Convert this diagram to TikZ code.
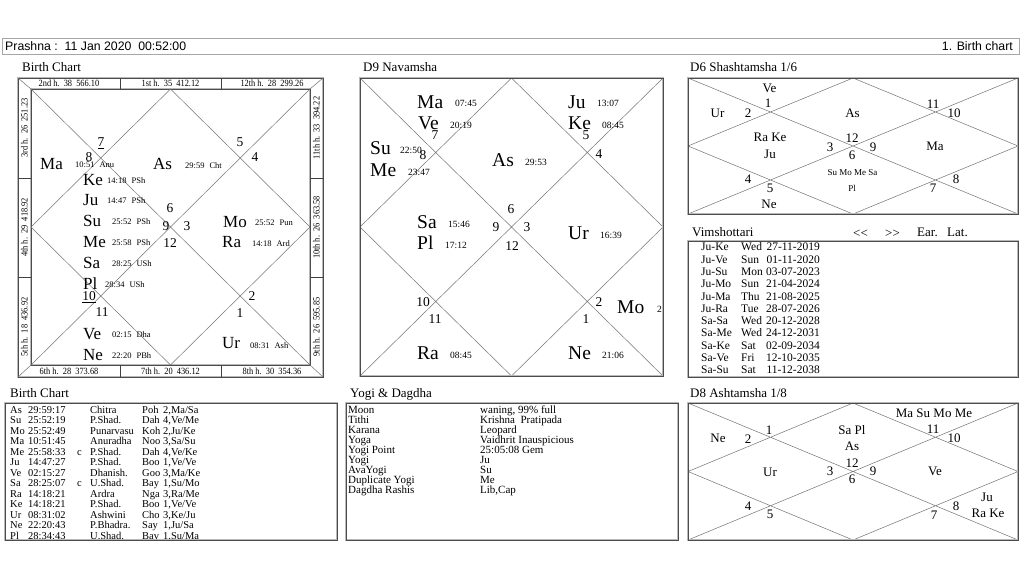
\documentclass[tikz,border=0pt]{standalone}
\usepackage{fontspec}
\setmainfont{Liberation Serif}
\newfontfamily\barfont{Liberation Sans}
\newfontfamily\bandfont[FakeStretch=0.88]{Liberation Serif}
\newcounter{nn}
\newcommand\Lbl[3][]{\stepcounter{nn}\node[#1] (n\arabic{nn}) at (#2) {#3};}
\begin{document}
\begin{tikzpicture}[x=1pt,y=-1pt,
 pl/.style={anchor=west, inner sep=0, text height=11.3pt, text depth=0pt, font=\fontsize{17}{17}\selectfont},
 plb/.style={anchor=west, inner sep=0, text height=12.9pt, text depth=0pt, font=\fontsize{19.5}{19.5}\selectfont},
 dg/.style={anchor=west, inner sep=0, text height=5.7pt, text depth=0pt, font=\fontsize{8.5}{8.5}\selectfont},
 dgb/.style={anchor=west, inner sep=0, text height=6.4pt, text depth=0pt, font=\fontsize{9.5}{9.5}\selectfont},
 hn/.style={inner sep=0, text height=9.1pt, text depth=0pt, font=\fontsize{13.5}{13.5}\selectfont},
 band/.style={inner sep=0, text height=6.4pt, text depth=0pt, font=\bandfont\fontsize{9.5}{9.5}\selectfont},
 ttl/.style={anchor=west, inner sep=0, text height=8.6pt, text depth=0pt, font=\fontsize{13}{13}\selectfont},
 dl/.style={inner sep=0, text height=8.6pt, text depth=0pt, font=\fontsize{13}{13}\selectfont},
 dsm/.style={inner sep=0, text height=6pt, text depth=0pt, font=\fontsize{9}{9}\selectfont},
 tb/.style={anchor=west, inner sep=0, text height=7pt, text depth=0pt, font=\fontsize{10.5}{10.5}\selectfont},
 yg/.style={anchor=west, inner sep=0, text height=7.3pt, text depth=0pt, font=\fontsize{11}{11}\selectfont},
 vm/.style={anchor=west, inner sep=0, text height=7.6pt, text depth=0pt, font=\fontsize{11.5}{11.5}\selectfont},
 vmr/.style={vm, anchor=east},
 bar/.style={inner sep=0, text height=8.8pt, text depth=0pt, font=\barfont\fontsize{12.3}{12.3}\selectfont},
 fthick/.style={draw=gray!55, line width=1.8pt},
 fthin/.style={draw=black!70, line width=0.4pt},
 chl/.style={draw=black!55, line width=0.5pt},
]
\useasboundingbox[fill=white] (0,0) rectangle (1024,576);

% ---------- top bar ----------
\coordinate (barA) at (2,38.5); \coordinate (barB) at (1019.5,54.5);
\draw[gray!70, line width=0.9pt] (barA) rectangle (barB);
\Lbl[bar, anchor=west]{5,46.5}{Prashna :\ \ 11 Jan 2020\ \ 00:52:00}
\Lbl[bar, anchor=east]{1013,46.5}{1. Birth chart}

% ---------- titles ----------
\Lbl[ttl]{22,67}{Birth Chart}
\Lbl[ttl]{363,67}{D9 Navamsha}
\Lbl[ttl]{690,67}{D6 Shashtamsha 1/6}
\Lbl[ttl]{10,393}{Birth Chart}
\Lbl[ttl]{350,393}{Yogi \& Dagdha}
\Lbl[ttl]{690,393}{D8 Ashtamsha 1/8}
\Lbl[ttl]{692,232}{Vimshottari}
\Lbl[ttl]{853,233}{{<}{<}}
\Lbl[ttl]{885,233}{{>}{>}}
\Lbl[ttl]{917,232}{Ear.}
\Lbl[ttl]{947,232}{Lat.}

% ================= BIRTH CHART =================
\coordinate (bo1) at (18,78); \coordinate (bo2) at (323,78);
\coordinate (bo3) at (323,377); \coordinate (bo4) at (18,377);
\coordinate (bA) at (31,89); \coordinate (bB) at (310,89);
\coordinate (bC) at (310,365); \coordinate (bD) at (31,365);
\coordinate (bT) at (170.5,89); \coordinate (bR) at (310,227);
\coordinate (bM) at (170.5,365); \coordinate (bL) at (31,227);
\draw[fthick] (bo1) rectangle (bo3);
\draw[fthin] (bo1) rectangle (bo3);
\draw[fthick] (bA) rectangle (bC);
\draw[fthin] (bA) rectangle (bC);
\draw[chl] (bo1)--(bA) (bo2)--(bB) (bo3)--(bC) (bo4)--(bD);
% band dividers
\coordinate (t1a) at (120,78); \coordinate (t1b) at (120,89);
\coordinate (t2a) at (221,78); \coordinate (t2b) at (221,89);
\coordinate (u1a) at (120,365); \coordinate (u1b) at (120,377);
\coordinate (u2a) at (221,365); \coordinate (u2b) at (221,377);
\coordinate (l1a) at (18,178); \coordinate (l1b) at (31,178);
\coordinate (l2a) at (18,277); \coordinate (l2b) at (31,277);
\coordinate (r1a) at (310,178); \coordinate (r1b) at (323,178);
\coordinate (r2a) at (310,277); \coordinate (r2b) at (323,277);
\draw[black!75, line width=0.6pt] (t1a)--(t1b) (t2a)--(t2b) (u1a)--(u1b) (u2a)--(u2b)
  (l1a)--(l1b) (l2a)--(l2b) (r1a)--(r1b) (r2a)--(r2b);
\draw[chl] (bA)--(bC) (bB)--(bD) (bT)--(bR)--(bM)--(bL)--cycle;
% bands
\Lbl[band]{69,83.5}{2nd h.\ \ 38\ \ 566.10}
\Lbl[band]{170.5,83.5}{1st h.\ \ 35\ \ 412.12}
\Lbl[band]{272,83.5}{12th h.\ \ 28\ \ 299.26}
\Lbl[band]{69,371}{6th h.\ \ 28\ \ 373.68}
\Lbl[band]{170.5,371}{7th h.\ \ 20\ \ 436.12}
\Lbl[band]{272,371}{8th h.\ \ 30\ \ 354.36}
\Lbl[band, rotate=90]{24.5,128}{3rd h.\ \ 26\ \ 251.23}
\Lbl[band, rotate=90]{24.5,227.5}{4th h.\ \ 29\ \ 418.92}
\Lbl[band, rotate=90]{24.5,327}{5th h.\ \ 18\ \ 436.92}
\Lbl[band, rotate=90]{316.5,128}{11th h.\ \ 33\ \ 394.22}
\Lbl[band, rotate=90]{316.5,227.5}{10th h.\ \ 26\ \ 363.58}
\Lbl[band, rotate=90]{316.5,327}{9th h.\ \ 26\ \ 595.85}
% contents
\Lbl[pl]{40,164}{Ma}
\Lbl[dg]{75,165}{10:51\hspace{5pt}Anu}
\Lbl[hn]{89,157}{8}
\Lbl[hn]{101,142}{\underline{7}}
\Lbl[pl]{153,164}{As}
\Lbl[dg]{185,166}{29:59\hspace{5pt}Cht}
\Lbl[hn]{240,142}{5}
\Lbl[hn]{255,157}{4}
\Lbl[pl]{83,180}{Ke} \Lbl[dg]{107,181}{14:18\hspace{5pt}PSh}
\Lbl[pl]{83,200}{Ju} \Lbl[dg]{107,201}{14:47\hspace{5pt}PSh}
\Lbl[pl]{83,221}{Su} \Lbl[dg]{112,222}{25:52\hspace{5pt}PSh}
\Lbl[hn]{166,226}{9}
\Lbl[hn]{170,208}{6}
\Lbl[hn]{187,226}{3}
\Lbl[hn]{170,243}{12}
\Lbl[pl]{223,222}{Mo} \Lbl[dg]{255,223}{25:52\hspace{5pt}Pun}
\Lbl[pl]{222,242}{Ra} \Lbl[dg]{252,244}{14:18\hspace{5pt}Ard}
\Lbl[pl]{83,242}{Me} \Lbl[dg]{112,243}{25:58\hspace{5pt}PSh}
\Lbl[pl]{83,263}{Sa} \Lbl[dg]{112,264}{28:25\hspace{5pt}USh}
\Lbl[pl]{83,284}{Pl} \Lbl[dg]{105,285}{28:34\hspace{5pt}USh}
\Lbl[hn]{89,296}{\underline{10}}
\Lbl[hn]{102,312}{11}
\Lbl[pl]{83,334}{Ve} \Lbl[dg]{112,335}{02:15\hspace{5pt}Dha}
\Lbl[pl]{83,355}{Ne} \Lbl[dg]{112,356}{22:20\hspace{5pt}PBh}
\Lbl[hn]{252,296}{2}
\Lbl[hn]{240,313}{1}
\Lbl[pl]{222,343}{Ur} \Lbl[dg]{250,346}{08:31\hspace{5pt}Ash}

% ================= D9 =================
\coordinate (nA) at (360,78); \coordinate (nB) at (663,78);
\coordinate (nC) at (663,376); \coordinate (nD) at (360,376);
\coordinate (nT) at (511.5,78); \coordinate (nR) at (663,227);
\coordinate (nM) at (511.5,376); \coordinate (nL) at (360,227);
\draw[chl] (nA)--(nC) (nB)--(nD) (nT)--(nR)--(nM)--(nL)--cycle;
\begin{scope}
\clip (nA) rectangle (nC);
\Lbl[plb]{417,102}{Ma} \Lbl[dgb]{455,103}{07:45}
\Lbl[plb]{418,123}{Ve} \Lbl[dgb]{450,125}{20:19}
\Lbl[plb]{370,148}{Su} \Lbl[dgb]{400,150}{22:50}
\Lbl[plb]{370,170}{Me} \Lbl[dgb]{408,172}{23:47}
\Lbl[plb]{492,160}{As} \Lbl[dgb]{525,162}{29:53}
\Lbl[plb]{568,102}{Ju} \Lbl[dgb]{597,103}{13:07}
\Lbl[plb]{568,123}{Ke} \Lbl[dgb]{602,125}{08:45}
\Lbl[plb]{417,222}{Sa} \Lbl[dgb]{448,224}{15:46}
\Lbl[plb]{417,243}{Pl} \Lbl[dgb]{445,245}{17:12}
\Lbl[plb]{568,233}{Ur} \Lbl[dgb]{600,235}{16:39}
\Lbl[plb]{617,307}{Mo} \Lbl[dgb]{657,309}{22:55}
\Lbl[plb]{417,353}{Ra} \Lbl[dgb]{450,355}{08:45}
\Lbl[plb]{568,353}{Ne} \Lbl[dgb]{602,355}{21:06}
\end{scope}
\Lbl[hn]{435,135}{7}
\Lbl[hn]{423,155}{8}
\Lbl[hn]{586,135}{5}
\Lbl[hn]{599,154}{4}
\Lbl[hn]{511,209}{6}
\Lbl[hn]{496,227}{9}
\Lbl[hn]{527,227}{3}
\Lbl[hn]{512,246}{12}
\Lbl[hn]{423,302}{10}
\Lbl[hn]{435,319}{11}
\Lbl[hn]{599,302}{2}
\Lbl[hn]{586,319}{1}
\draw[fthick] (nA) rectangle (nC);
\draw[fthin] (nA) rectangle (nC);

% ================= D6 =================
\coordinate (sA) at (688,78); \coordinate (sB) at (1018,78);
\coordinate (sC) at (1018,214); \coordinate (sD) at (688,214);
\coordinate (sT) at (853,78); \coordinate (sR) at (1018,146);
\coordinate (sM) at (853,214); \coordinate (sL) at (688,146);
\draw[chl] (sA)--(sC) (sB)--(sD) (sT)--(sR)--(sM)--(sL)--cycle;
\draw[fthick] (sA) rectangle (sC);
\draw[fthin] (sA) rectangle (sC);
\Lbl[dl]{769.5,88}{Ve}
\Lbl[dl]{768,103}{1}
\Lbl[dl]{748,113}{2}
\Lbl[dl]{717.5,113}{Ur}
\Lbl[dl]{852.5,113}{As}
\Lbl[dl]{933,104}{11}
\Lbl[dl]{954,113}{10}
\Lbl[dl]{770,137}{Ra Ke}
\Lbl[dl]{770,154}{Ju}
\Lbl[dl]{852,138}{12}
\Lbl[dl]{830,147}{3}
\Lbl[dl]{873,147}{9}
\Lbl[dl]{852,155}{6}
\Lbl[dl]{935,146}{Ma}
\Lbl[dsm]{852.5,172}{Su Mo Me Sa}
\Lbl[dsm]{852,188}{Pl}
\Lbl[dl]{748,179}{4}
\Lbl[dl]{770,188}{5}
\Lbl[dl]{933,188}{7}
\Lbl[dl]{956,179}{8}
\Lbl[dl]{769,204}{Ne}

% ================= Vimshottari =================
\coordinate (vA) at (688,241); \coordinate (vC) at (1018,377);
\draw[fthick] (vA) rectangle (vC);
\draw[fthin] (vA) rectangle (vC);
\foreach \d/\w/\t [count=\i from 0] in {Ju-Ke/Wed/27-11-2019, Ju-Ve/Sun/01-11-2020, Ju-Su/Mon/03-07-2023, Ju-Mo/Sun/21-04-2024, Ju-Ma/Thu/21-08-2025, Ju-Ra/Tue/28-07-2026, Sa-Sa/Wed/20-12-2028, Sa-Me/Wed/24-12-2031, Sa-Ke/Sat/02-09-2034, Sa-Ve/Fri/12-10-2035, Sa-Su/Sat/11-12-2038}{
  \node[vm] (vd\i) at (701,247+12.3*\i) {\d};
  \node[vm] (vw\i) at (741,247+12.3*\i) {\w};
  \node[vmr] (vt\i) at (820,247+12.3*\i) {\t};
}

% ================= Birth chart table =================
\coordinate (kA) at (5,403); \coordinate (kC) at (337,540);
\begin{scope}
\clip (kA) rectangle (kC);
\foreach \p/\g/\c/\n/\s/\q [count=\i from 0] in {
 As/29:59:17//Chitra/Poh/{2,Ma/Sa},
 Su/25:52:19//P.Shad./Dah/{4,Ve/Me},
 Mo/25:52:49//Punarvasu/Koh/{2,Ju/Ke},
 Ma/10:51:45//Anuradha/Noo/{3,Sa/Su},
 Me/25:58:33/c/P.Shad./Dah/{4,Ve/Ke},
 Ju/14:47:27//P.Shad./Boo/{1,Ve/Ve},
 Ve/02:15:27//Dhanish./Goo/{3,Ma/Ke},
 Sa/28:25:07/c/U.Shad./Bay/{1,Su/Mo},
 Ra/14:18:21//Ardra/Nga/{3,Ra/Me},
 Ke/14:18:21//P.Shad./Boo/{1,Ve/Ve},
 Ur/08:31:02//Ashwini/Cho/{3,Ke/Ju},
 Ne/22:20:43//P.Bhadra./Say/{1,Ju/Sa},
 Pl/28:34:43//U.Shad./Bav/{1,Su/Ma}}{
  \node[tb] (kp\i) at (10,409.5+10.5*\i) {\p};
  \node[tb] (kg\i) at (28,409.5+10.5*\i) {\g};
  \node[tb] (kc\i) at (77,409.5+10.5*\i) {\c};
  \node[tb] (kn\i) at (90,409.5+10.5*\i) {\n};
  \node[tb] (ks\i) at (142,409.5+10.5*\i) {\s};
  \node[tb] (kq\i) at (163,409.5+10.5*\i) {\q};
}
\end{scope}
\draw[fthick] (kA) rectangle (kC);
\draw[fthin] (kA) rectangle (kC);

% ================= Yogi & Dagdha =================
\coordinate (yA) at (346,403); \coordinate (yC) at (678,540);
\draw[fthick] (yA) rectangle (yC);
\draw[fthin] (yA) rectangle (yC);
\foreach \a/\b [count=\i from 0] in {Moon/{waning, 99\% full}, Tithi/{Krishna\ \ Pratipada}, Karana/Leopard, Yoga/{Vaidhrit Inauspicious}, {Yogi Point}/{25:05:08 Gem}, Yogi/Ju, AvaYogi/Su, {Duplicate Yogi}/Me, {Dagdha Rashis}/{Lib,Cap}}{
  \node[yg] (ya\i) at (348,410+10*\i) {\a};
  \node[yg] (yb\i) at (480,410+10*\i) {\b};
}

% ================= D8 =================
\coordinate (eA) at (688,403); \coordinate (eB) at (1018,403);
\coordinate (eC) at (1018,540); \coordinate (eD) at (688,540);
\coordinate (eT) at (853,403); \coordinate (eR) at (1018,471.5);
\coordinate (eM) at (853,540); \coordinate (eL) at (688,471.5);
\draw[chl] (eA)--(eC) (eB)--(eD) (eT)--(eR)--(eM)--(eL)--cycle;
\draw[fthick] (eA) rectangle (eC);
\draw[fthin] (eA) rectangle (eC);
\Lbl[dl]{934,413}{Ma Su Mo Me}
\Lbl[dl]{718,438}{Ne}
\Lbl[dl]{748,439}{2}
\Lbl[dl]{769,430}{1}
\Lbl[dl]{852,430}{Sa Pl}
\Lbl[dl]{852,446}{As}
\Lbl[dl]{933,429}{11}
\Lbl[dl]{954,438}{10}
\Lbl[dl]{770,472}{Ur}
\Lbl[dl]{852,463}{12}
\Lbl[dl]{830,471}{3}
\Lbl[dl]{873,471}{9}
\Lbl[dl]{852,479}{6}
\Lbl[dl]{935,471}{Ve}
\Lbl[dl]{748,506}{4}
\Lbl[dl]{770,514}{5}
\Lbl[dl]{934,515}{7}
\Lbl[dl]{956,506}{8}
\Lbl[dl]{987,497}{Ju}
\Lbl[dl]{988,513}{Ra Ke}
\end{tikzpicture}
\end{document}
